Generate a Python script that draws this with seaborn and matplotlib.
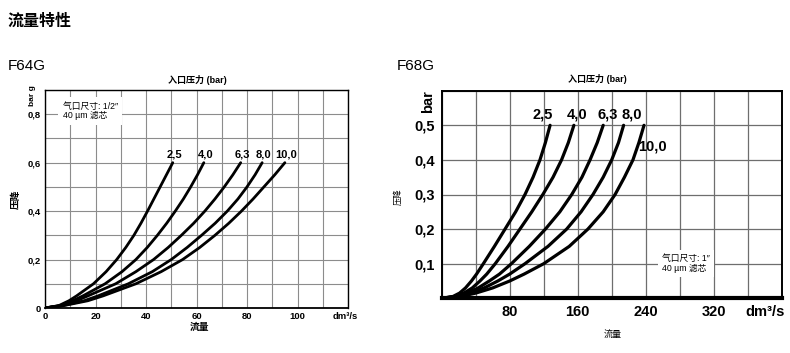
import matplotlib
matplotlib.use("Agg")
import numpy as np
import pandas as pd
import matplotlib.pyplot as plt
import seaborn as sns

W, H = 790, 353

# F64G: flow (dm3/s) read at each pressure-drop level, one list per inlet pressure
f64_pressures = ["2,5", "4,0", "6,3", "8,0", "10,0"]
f64_drop = [0, 0.01, 0.03, 0.05, 0.1, 0.15, 0.2, 0.25, 0.3, 0.35, 0.4, 0.45, 0.5, 0.55, 0.6]
f64_flow_25 = [0, 5.5, 9.5, 12.5, 19.2, 24.2, 28.4, 32.0, 35.2, 38.0, 40.6, 43.1, 45.6, 48.1, 50.6]
f64_flow_40 = [0, 6.0, 11.0, 15.0, 23.8, 30.5, 36.0, 40.5, 44.5, 48.2, 51.6, 54.8, 57.7, 60.4, 62.9]
f64_flow_63 = [0, 6.5, 12.5, 17.0, 28.0, 36.0, 43.0, 48.8, 54.0, 58.9, 63.3, 67.3, 71.0, 74.4, 77.5]
f64_flow_80 = [0, 7.0, 15.5, 21.0, 33.0, 42.5, 50.0, 56.3, 62.0, 67.4, 72.2, 76.4, 80.0, 83.2, 86.0]
f64_flow_100 = [0, 7.5, 17.0, 23.0, 36.0, 46.0, 54.5, 61.3, 67.3, 72.8, 77.8, 82.4, 86.7, 91.0, 95.0]
f64_xticks = [0, 20, 40, 60, 80, 100]
f64_yticks = [0, 0.2, 0.4, 0.6, 0.8]
f64_ylabels = ["0", "0,2", "0,4", "0,6", "0,8"]

# F68G
f68_pressures = ["2,5", "4,0", "6,3", "8,0", "10,0"]
f68_drop = [0, 0.005, 0.015, 0.03, 0.05, 0.07, 0.1, 0.15, 0.2, 0.25, 0.3, 0.35, 0.4, 0.45, 0.5]
f68_flow_25 = [0, 13, 21, 28, 35, 41, 49, 62, 74.5, 87, 98, 107.5, 115.6, 122, 127.5]
f68_flow_40 = [0, 15, 26, 36, 45, 53, 63, 78, 92, 106, 119, 131, 141, 149, 155.5]
f68_flow_63 = [0, 17, 30, 43, 56, 68, 82, 103, 122, 139, 153, 165, 174.5, 183, 190]
f68_flow_80 = [0, 19, 34, 50, 66, 80, 98, 125, 147, 164, 178, 190, 200, 208, 214]
f68_flow_100 = [0, 22, 40, 60, 80, 97, 120, 150, 172, 190, 204, 215, 225, 232, 238]
f68_xticks = [80, 160, 240, 320]
f68_yticks = [0.1, 0.2, 0.3, 0.4, 0.5]
f68_ylabels = ["0,1", "0,2", "0,3", "0,4", "0,5"]


def make_frame(pressures, drop, flows):
    parts = []
    for p, f in zip(pressures, flows):
        parts.append(pd.DataFrame({"pressure": p, "flow": f, "drop": drop}))
    return pd.concat(parts, ignore_index=True)


def px(x, y):
    return x / W, 1 - y / H


def style_axes(ax, major_x, major_xlabels, major_y, major_ylabels, minor_x, minor_y,
               grid_color, grid_lw, label_size, pad):
    ax.set_xticks(major_x)
    ax.set_xticklabels(major_xlabels)
    ax.set_yticks(major_y)
    ax.set_yticklabels(major_ylabels)
    ax.set_xticks(minor_x, minor=True)
    ax.set_yticks(minor_y, minor=True)
    ax.xaxis.remove_overlapping_locs = False
    ax.yaxis.remove_overlapping_locs = False
    ax.grid(which="major", visible=False)
    ax.grid(which="minor", color=grid_color, linewidth=grid_lw)
    ax.set_axisbelow(True)
    ax.tick_params(which="both", length=0, labelsize=label_size, pad=pad,
                   labelcolor="black")
    for lbl in ax.get_xticklabels() + ax.get_yticklabels():
        lbl.set_fontweight("bold")
    ax.set_xlabel("")
    ax.set_ylabel("")
    for s in ax.spines.values():
        s.set_color("black")


sns.set_theme(style="white")
plt.rcParams["font.family"] = ["Liberation Sans", "Noto Sans CJK SC", "DejaVu Sans"]
plt.rcParams["text.color"] = "black"

fig = plt.figure(figsize=(7.9, 3.53), dpi=100)

# ---------- F64G ----------
ax1 = fig.add_axes([45 / W, 1 - 308 / H, 303 / W, 218 / H])
f64_flows = [f64_flow_25, f64_flow_40, f64_flow_63, f64_flow_80, f64_flow_100]
df1 = make_frame(f64_pressures, f64_drop, f64_flows)
sns.lineplot(data=df1, x="flow", y="drop", hue="pressure", palette=["black"] * 5,
             estimator=None, sort=False, legend=False, linewidth=2.0, ax=ax1)
ax1.set_xlim(0, 120)
ax1.set_ylim(0, 0.9)
style_axes(ax1, f64_xticks + [119], [str(v) for v in f64_xticks] + ["dm³/s"],
           f64_yticks, f64_ylabels, np.arange(0, 121, 10), np.arange(0, 0.91, 0.1),
           "#8c8c8c", 0.8, 6.8, 3)
for s in ax1.spines.values():
    s.set_linewidth(1.0)
ax1.spines["bottom"].set_linewidth(1.3)

for p, f in zip(f64_pressures, f64_flows):
    ax1.text(f[-1] + 0.6, 0.634, p, ha="center", va="center", fontsize=8, fontweight="bold")

ax1.text(7, 0.852, "气口尺寸: 1/2″\n40 µm 滤芯", ha="left", va="top", fontsize=6.3,
         linespacing=1.1, bbox=dict(facecolor="white", edgecolor="none", pad=3))

# ---------- F68G ----------
ax2 = fig.add_axes([441.7 / W, 1 - 298.3 / H, 340 / W, 207.6 / H])
f68_flows = [f68_flow_25, f68_flow_40, f68_flow_63, f68_flow_80, f68_flow_100]
df2 = make_frame(f68_pressures, f68_drop, f68_flows)
sns.lineplot(data=df2, x="flow", y="drop", hue="pressure", palette=["black"] * 5,
             estimator=None, sort=False, legend=False, linewidth=2.3, ax=ax2)
ax2.set_xlim(0, 400)
ax2.set_ylim(0, 0.6)
style_axes(ax2, f68_xticks + [380], [str(v) for v in f68_xticks] + ["dm³/s"],
           f68_yticks, f68_ylabels, np.arange(0, 401, 40), np.arange(0, 0.61, 0.1),
           "#6e6e6e", 0.9, 10.5, 5)
for s in ax2.spines.values():
    s.set_linewidth(1.4)
ax2.spines["bottom"].set_linewidth(3)

f68_label_x = [119, 159, 195, 223.5, 248]
f68_label_y = [0.531, 0.531, 0.531, 0.531, 0.44]
for p, lx, ly in zip(f68_pressures, f68_label_x, f68_label_y):
    ax2.text(lx, ly, p, ha="center", va="center", fontsize=10.5, fontweight="bold")

ax2.text(259, 0.128, "气口尺寸: 1″\n40 µm 滤芯", ha="left", va="top", fontsize=6.3,
         linespacing=1.1, bbox=dict(facecolor="white", edgecolor="none", pad=3))

# ---------- page texts ----------
fig.text(*px(8, 21), "流量特性", fontsize=11.5, fontweight="bold", va="center", ha="left")
fig.text(*px(8, 66), "F64G", fontsize=11, va="center", ha="left")
fig.text(*px(397, 66), "F68G", fontsize=11, va="center", ha="left")
fig.text(*px(197, 80), "入口压力 (bar)", fontsize=6.5, fontweight="bold", va="center", ha="center")
fig.text(*px(597, 79), "入口压力 (bar)", fontsize=6.5, fontweight="bold", va="center", ha="center")
fig.text(*px(33, 96), "bar g", fontsize=6, fontweight="bold", rotation=90, va="center", ha="center")
fig.text(*px(428, 102), "bar", fontsize=10.5, fontweight="bold", rotation=90, va="center", ha="center")
fig.text(*px(16, 199), "压降", fontsize=7, fontweight="bold", rotation=90, va="center", ha="center")
fig.text(*px(398, 197), "压降", fontsize=6, rotation=90, va="center", ha="center")
fig.text(*px(199, 327), "流量", fontsize=7, fontweight="bold", va="center", ha="center")
fig.text(*px(613, 335), "流量", fontsize=6.5, va="center", ha="center")

fig.savefig("out.png", dpi=100)
